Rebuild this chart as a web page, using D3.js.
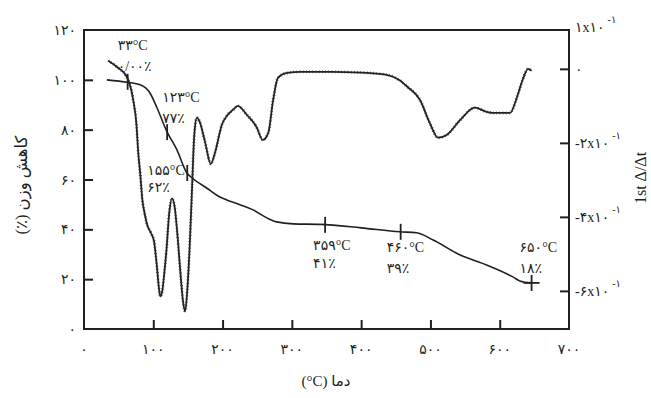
<!DOCTYPE html>
<html lang="fa">
<head>
  <meta charset="UTF-8" />
  <title>TGA / DTG</title>
  <script src="https://d3js.org/d3.v7.min.js"></script>
  <style>
    body { margin: 0; background: #fff; }
    svg { display: block; }
    text { font-family: 'Liberation Serif', 'DejaVu Sans', serif; fill: #231f20; }
  </style>
</head>
<body>
  <svg width="651" height="398"></svg>
  <script>
    // weight curve (left axis, %)
    const tgaTemp = [33, 63, 81, 95, 105, 120, 134, 148, 157, 177, 196, 206, 226, 244, 264, 278, 302, 341, 400, 456, 480, 504, 543, 581, 619, 629, 646];
    const tgaWeight = [100, 99, 98, 94.8, 89, 79, 72, 62.8, 60.4, 56.6, 53, 51.8, 49.8, 47.8, 44.6, 43, 42.2, 42, 40.6, 39, 38.6, 35.7, 29.7, 25.7, 20.9, 19.3, 18.5];

    // derivative curve (right axis, x10^-1)
    const dtgTemp = [35, 49, 62, 71, 76, 78, 81, 84, 88, 91, 97, 101, 105, 108, 110, 113, 116, 119, 123, 127, 131, 134, 140, 143, 146, 149, 153, 156, 158, 160, 163, 167, 175, 183, 189, 199, 207, 215, 222, 235, 249, 258, 266, 273, 280, 293, 312, 355, 400, 437, 455, 467, 485, 499, 511, 524, 543, 564, 581, 590, 615, 625, 633, 641, 646];
    const dtgValue = [0.22, 0.03, -0.22, -0.84, -1.57, -2.2, -2.8, -3.5, -3.95, -4.2, -4.45, -4.65, -5.3, -5.9, -6.15, -6.0, -5.5, -4.9, -3.9, -3.5, -3.75, -4.3, -5.7, -6.3, -6.55, -6.0, -4.6, -3.2, -2.2, -1.6, -1.32, -1.43, -2.0, -2.57, -2.27, -1.51, -1.25, -1.11, -1.0, -1.24, -1.57, -1.92, -1.73, -0.84, -0.24, -0.11, -0.08, -0.08, -0.1, -0.16, -0.3, -0.49, -0.84, -1.46, -1.86, -1.78, -1.38, -1.05, -1.16, -1.19, -1.19, -0.76, -0.3, 0.0, -0.05];

    // annotated points on the weight curve
    const markTemp = [63, 120, 149, 348, 457, 646];
    const markWeight = [99.2, 79, 62.6, 41.8, 39, 18.5];
    const markTitle = ["۳۳°C", "۱۲۳°C", "۱۵۵°C", "۳۵۹°C", "۴۶۰°C", "۶۵۰°C"];
    const markPercent = ["۰/۰۰٪", "۷۷٪", "۶۲٪", "۴۱٪", "۳۹٪", "۱۸٪"];

    const xTicks = [0, 100, 200, 300, 400, 500, 600, 700];
    const xTickLabels = ["۰", "۱۰۰", "۲۰۰", "۳۰۰", "۴۰۰", "۵۰۰", "۶۰۰", "۷۰۰"];
    const yTicks = [0, 20, 40, 60, 80, 100, 120];
    const yTickLabels = ["۰", "۲۰", "۴۰", "۶۰", "۸۰", "۱۰۰", "۱۲۰"];
    const rTicks = [1, 0, -2, -4, -6];
    const rTickLabels = ["۱x۱۰", "۰", "-۲x۱۰", "-۴x۱۰", "-۶x۱۰"];

    const svg = d3.select("svg");
    const plotL = 84, plotT = 30, plotR = 569, plotB = 329;
    const ink = "#231f20";

    const x = d3.scaleLinear().domain([0, 700]).range([plotL, plotR]);
    const y = d3.scaleLinear().domain([0, 120]).range([plotB, plotT]);
    const yR = d3.scaleLinear().domain([-7.03, 1.05]).range([plotB, plotT]);

    // frame
    svg.append("rect")
      .attr("x", plotL).attr("y", plotT)
      .attr("width", plotR - plotL).attr("height", plotB - plotT)
      .attr("fill", "none").attr("stroke", ink).attr("stroke-width", 2);

    // inward ticks
    const tickLen = 9;
    const xAxis = d3.axisBottom(x).tickValues(xTicks.slice(1, -1)).tickSizeInner(-tickLen).tickSizeOuter(0).tickFormat("");
    svg.append("g").attr("transform", `translate(0,${plotB})`).call(xAxis)
      .call(g => g.select(".domain").remove())
      .call(g => g.selectAll("line").attr("stroke", ink).attr("stroke-width", 2));

    const yAxis = d3.axisLeft(y).tickValues(yTicks.slice(1, -1)).tickSizeInner(-tickLen).tickSizeOuter(0).tickFormat("");
    svg.append("g").attr("transform", `translate(${plotL},0)`).call(yAxis)
      .call(g => g.select(".domain").remove())
      .call(g => g.selectAll("line").attr("stroke", ink).attr("stroke-width", 2));

    const rAxis = d3.axisRight(yR).tickValues(rTicks.slice(1)).tickSizeInner(-tickLen).tickSizeOuter(0).tickFormat("");
    svg.append("g").attr("transform", `translate(${plotR},0)`).call(rAxis)
      .call(g => g.select(".domain").remove())
      .call(g => g.selectAll("line").attr("stroke", ink).attr("stroke-width", 2));

    // tick labels
    svg.append("g").selectAll("text").data(xTicks).join("text")
      .attr("x", d => x(d)).attr("y", 354)
      .attr("text-anchor", "middle").attr("font-size", 14)
      .text((d, i) => xTickLabels[i]);

    svg.append("g").selectAll("text").data(yTicks).join("text")
      .attr("x", 76).attr("y", d => y(d) + 5)
      .attr("text-anchor", "end").attr("font-size", 14)
      .text((d, i) => yTickLabels[i]);

    const rLab = svg.append("g").selectAll("text").data(rTicks).join("text")
      .attr("x", 575).attr("y", d => yR(d) + (d === 1 ? 0 : 5))
      .attr("font-size", 14);
    rLab.append("tspan").text((d, i) => rTickLabels[i]);
    rLab.filter(d => d !== 0).append("tspan")
      .attr("dx", 3).attr("dy", -9).attr("font-size", 10).text("-۱");

    // axis titles
    svg.append("text")
      .attr("transform", "translate(27,185) rotate(-90)")
      .attr("text-anchor", "middle").attr("font-size", 16.5)
      .text("(٪) کاهش وزن");

    svg.append("text")
      .attr("transform", "translate(646,178) rotate(-90)")
      .attr("text-anchor", "middle").attr("font-size", 16)
      .text("1st Δ/Δt");

    svg.append("text")
      .attr("x", 326).attr("y", 386)
      .attr("text-anchor", "middle").attr("font-size", 15)
      .text("(°C) دما");

    // weight curve
    const tga = tgaTemp.map((t, i) => [t, tgaWeight[i]]);
    const tgaLine = d3.line().x(d => x(d[0])).y(d => y(d[1])).curve(d3.curveMonotoneX);
    svg.append("path").datum(tga)
      .attr("d", tgaLine)
      .attr("fill", "none").attr("stroke", ink).attr("stroke-width", 1.6);

    // derivative curve with beaded markers
    const dtg = dtgTemp.map((t, i) => [t, dtgValue[i]]);
    const dtgLine = d3.line().x(d => x(d[0])).y(d => yR(d[1])).curve(d3.curveMonotoneX);
    svg.append("path").datum(dtg)
      .attr("d", dtgLine)
      .attr("fill", "none").attr("stroke", ink).attr("stroke-width", 1.8);
    svg.append("path").datum(dtg)
      .attr("d", dtgLine)
      .attr("fill", "none").attr("stroke", "#333").attr("stroke-width", 3)
      .attr("stroke-dasharray", "0.6 2.6");

    // annotation marks and labels: [dx, title dy, percent dy] from the mark
    const labelPos = [[-10, -32, -11], [-5, -30, -9], [-40, 2, 19], [-12, 25, 43], [-14, 20, 41], [-12, -31, -10]];
    const marks = svg.append("g");
    markTemp.forEach((t, i) => {
      const mx = x(t), my = y(markWeight[i]);
      marks.append("line")
        .attr("x1", mx).attr("x2", mx).attr("y1", my - 8).attr("y2", my + 8)
        .attr("stroke", ink).attr("stroke-width", 1.8);
      const [dx, dy1, dy2] = labelPos[i];
      marks.append("text").attr("x", mx + dx).attr("y", my + dy1)
        .attr("font-size", 14).text(markTitle[i]);
      marks.append("text").attr("x", mx + dx).attr("y", my + dy2)
        .attr("font-size", 14).text(markPercent[i]);
    });
    // end cross on last mark
    marks.append("line")
      .attr("x1", x(646) - 8).attr("x2", x(646) + 8)
      .attr("y1", y(18.5)).attr("y2", y(18.5))
      .attr("stroke", ink).attr("stroke-width", 1.8);
  </script>
</body>
</html>
